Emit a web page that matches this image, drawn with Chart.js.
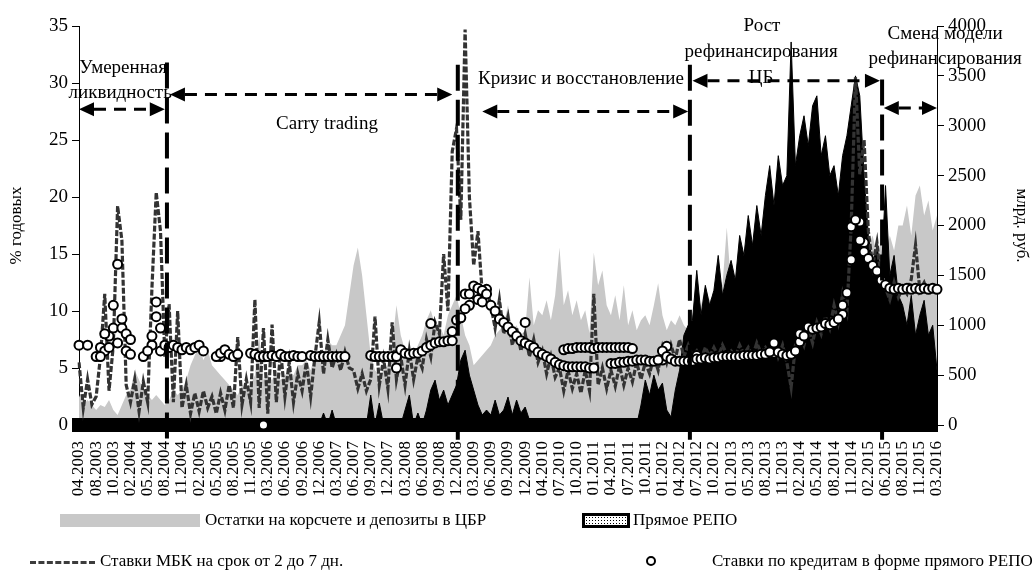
<!DOCTYPE html>
<html>
<head>
<meta charset="utf-8">
<script src="https://cdn.jsdelivr.net/npm/chart.js@4"></script>
<style>
  html, body { margin: 0; padding: 0; background: #fff; }
  #wrap { position: relative; width: 1032px; height: 574px; }
  .leg { position: absolute; font: 17px "Liberation Serif", serif; color: #000; white-space: nowrap; line-height: 20px; }
  .sw { position: absolute; }
</style>
</head>
<body>
<div id="wrap">
  <canvas id="chart" width="1032" height="574" style="width:1032px;height:574px"></canvas>
  <div class="sw" style="left:60px;top:514px;width:140px;height:13px;background:#c8c8c8"></div>
  <div class="leg" style="left:205px;top:510px">Остатки на корсчете и депозиты в ЦБР</div>
  <div class="sw" style="left:582px;top:513px;width:42px;height:9px;border:3px solid #000;background:#fff radial-gradient(#000 0.7px, transparent 0.9px);background-size:3px 3px"></div>
  <div class="leg" style="left:633px;top:510px">Прямое РЕПО</div>
  <div class="sw" style="left:30px;top:561px;width:65px;border-top:3px dashed #3c3c3c"></div>
  <div class="leg" style="left:100px;top:551px">Ставки МБК на срок от 2 до 7 дн.</div>
  <div class="sw" style="left:646px;top:556px;width:6px;height:6px;border:2px solid #000;border-radius:50%;background:#fff"></div>
  <div class="leg" style="left:712px;top:551px">Ставки по кредитам в форме прямого РЕПО</div>
</div>
<script>
// подписи оси X (каждая четвёртая точка)
const tickLabels = ["04.2003", "08.2003", "10.2003", "02.2004", "05.2004", "08.2004", "11.2004", "02.2005",
    "05.2005", "08.2005", "11.2005", "03.2006", "06.2006", "09.2006", "12.2006", "03.2007", "06.2007",
    "09.2007", "12.2007", "03.2008", "06.2008", "09.2008", "12.2008", "03.2009", "06.2009", "09.2009",
    "12.2009", "04.2010", "07.2010", "10.2010", "01.2011", "04.2011", "07.2011", "10.2011", "01.2012",
    "04.2012", "07.2012", "10.2012", "01.2013", "05.2013", "08.2013", "11.2013", "02.2014", "05.2014",
    "08.2014", "11.2014", "02.2015", "06.2015", "08.2015", "11.2015", "03.2016"];
const pointsPerTick = 4;

// Ставки МБК на срок от 2 до 7 дн., % годовых
const mbkRate = [
    5.5, 1.5, 4.0, 1.8,   2.5, 6.0, 11.5, 3.0,   7.0, 19.2, 16.2, 3.5,   2.0, 4.0, 1.2, 3.8,
    2.0, 12.0, 20.4, 17.0,   6.0, 10.6, 2.0, 10.0,   1.5, 3.5, 1.0, 2.8,   1.2, 3.0, 1.5, 2.5,
    1.0, 2.8, 1.3, 3.5,   1.5, 7.7, 1.8, 4.0,   2.0, 11.0, 1.5, 8.5,   1.0, 8.8, 2.0, 6.5,
    2.5, 5.5, 2.0, 4.5,   3.0, 5.5, 2.5, 6.0,   9.0, 4.5, 7.5, 5.0,   6.2, 4.8, 6.4, 5.0,
    4.8, 3.2, 4.5, 3.0,   4.0, 9.5, 3.5, 5.8,   3.2, 9.0, 4.0, 6.0,   3.5, 6.5, 4.0, 6.0,
    5.0, 7.5, 6.0, 9.0,   8.0, 15.0, 10.0, 24.0,   26.0, 18.0, 34.7, 20.0,   14.0, 17.0, 11.5, 12.0,
    10.5, 8.5, 11.0, 8.0,   9.5, 7.0, 8.5, 6.5,   8.0, 6.0, 7.5, 5.5,   6.5, 4.5, 6.0, 4.2,
    5.0, 3.0, 4.8, 3.2,   4.5, 2.8, 4.8, 3.0,   11.5, 3.5, 5.0, 3.2,   4.8, 3.4, 5.2, 3.5,
    5.0, 3.8, 5.5, 4.0,   5.5, 4.5, 6.0, 4.8,   6.8, 5.5, 7.0, 5.8,   7.5, 6.0, 7.0, 6.0,
    6.5, 5.8, 6.8, 6.0,   6.8, 6.0, 7.0, 6.2,   6.5, 6.0, 7.0, 6.2,   6.8, 6.0, 7.2, 6.3,
    6.8, 6.2, 7.5, 6.0,   7.0, 5.5, 3.3, 7.0,   8.0, 7.0, 8.5, 7.2,   9.0, 8.0, 9.5, 8.5,
    10.5, 9.0, 11.5, 10.0,   17.5, 30.5, 22.0, 25.0,   17.0, 14.0, 16.0, 12.5,   12.0, 11.0, 12.5, 11.2,
    12.0, 11.5, 12.8, 15.8,   11.8, 12.5, 11.5, 12.2,   11.8
];

// Прямое РЕПО, млрд руб.
const repoVolume = [
    0, 0, 0, 0,   0, 0, 0, 0,   0, 0, 0, 0,   0, 0, 0, 0,
    0, 0, 0, 0,   0, 0, 0, 0,   0, 0, 0, 0,   0, 0, 0, 0,
    0, 0, 0, 0,   0, 0, 0, 0,   0, 0, 0, 0,   0, 0, 0, 0,
    0, 0, 0, 0,   0, 0, 0, 0,   0, 120, 0, 150,   0, 60, 0, 0,
    0, 0, 0, 0,   300, 0, 220, 0,   0, 0, 0, 0,   150, 300, 0, 120,
    0, 150, 350, 450,   250, 350, 200, 300,   400, 650, 750, 500,   350, 200, 100, 150,
    100, 250, 100, 150,   280, 100, 250, 120,   180, 50, 0, 0,   0, 0, 0, 0,
    0, 0, 0, 0,   0, 0, 0, 0,   0, 0, 0, 0,   0, 0, 0, 0,
    0, 0, 0, 200,   450, 300, 500, 350,   420, 150, 80, 350,   550, 900, 1000, 1050,
    1550, 1100, 1400, 1200,   1350, 1700, 1300, 1500,   1650, 1450, 1900, 1700,   2100, 1800, 2200, 1900,
    2300, 2600, 2200, 2700,   2400, 2500, 3840, 2600,   2900, 3100, 2800, 3200,   3300, 2700, 2900, 2500,
    2600, 2300, 2700, 2900,   3200, 3500, 3300, 2500,   1900, 1600, 1800, 1500,   2400, 1500, 1700, 1300,
    1200, 1000, 1300, 900,   1100, 1250, 900, 1000,   550
];

// Остатки на корсчете и депозиты в ЦБР, млрд руб.
const reserves = [
    300, 200, 250, 200,   150, 200, 180, 250,   150, 100, 200, 300,   350, 550, 450, 350,
    300, 250, 300, 250,   200, 250, 350, 300,   350, 450, 600, 700,   800, 650, 750, 600,
    550, 500, 450, 400,   350, 300, 400, 350,   400, 500, 900, 450,   500, 450, 550, 450,
    500, 550, 500, 600,   600, 650, 550, 700,   750, 700, 850, 800,   800, 900, 1000, 1300,
    1600, 1780, 1500, 1100,   700, 550, 500, 550,   600, 800, 1200, 900,   750, 650, 700, 800,
    900, 1050, 1150, 1000,   1000, 900, 1100, 1200,   1300, 1100, 900, 800,   600, 650, 700, 750,
    800, 900, 950, 1000,   1200, 950, 1000, 900,   950, 1480, 1000, 1150,   1100, 1250, 1050, 1300,
    1780, 1200, 1350, 1100,   1250, 1050, 1150, 920,   1730, 1400, 1550, 1200,   1100, 1300, 1050, 1400,
    1000, 1150, 950, 1050,   1100, 1000, 1200, 1420,   1100, 950, 1050, 1000,   1100, 1000, 950, 1100,
    1300, 1200, 1400, 1250,   1300, 1500, 1400, 1980,   1400, 1300, 1500, 1400,   1500, 1400, 1600, 1500,
    1500, 1600, 1400, 1500,   1600, 1500, 1400, 1500,   1500, 1600, 1400, 1500,   1500, 1400, 1600, 1500,
    1400, 1500, 1600, 1500,   1500, 1600, 1700, 1800,   1800, 1900, 1700, 1850,   1700, 1900, 1750, 2000,
    2000, 2200, 1900, 2300,   2400, 2100, 2250, 1950,   2100
];

// Ставки по кредитам в форме прямого РЕПО, % годовых
const repoRate = [
    7.0, null, 7.0, null,   6.0, 6.0, 8.0, 6.8,   10.5, 14.1, 9.3, 8.0,   7.5, null, null, 6.0,
    6.5, 7.8, 10.8, 8.5,   7.0, 6.8, 7.0, 6.8,   6.6, 6.8, 6.6, 6.8,   7.0, 6.5, null, null,
    6.0, 6.3, 6.6, 6.2,   6.0, 6.2, null, null,   6.3, 6.2, 6.0, 6.0,   6.0, 6.1, 6.0, 6.2,
    6.0, 6.0, 6.1, 6.0,   6.0, null, 6.1, 6.0,   6.0, 6.0, 6.0, 6.0,   6.0, 6.0, 6.0, null,
    null, null, null, null,   6.1, 6.0, 6.0, 6.0,   6.0, 6.0, 6.0, 6.6,   6.3, 6.2, 6.3, 6.3,
    6.5, 6.8, 7.0, 7.2,   7.3, 7.3, 7.4, 7.4,   9.2, 9.4, 10.2, 11.5,   12.2, 12.0, 11.8, 11.5,
    10.5, 10.0, 9.3, 9.0,   8.6, 8.2, 7.8, 7.4,   7.2, 7.0, 6.8, 6.4,   6.2, 6.0, 5.8, 5.5,
    5.3, 5.2, 5.1, 5.1,   5.1, 5.1, 5.1, 5.0,   5.0, 6.8, 6.8, 6.8,   6.8, 6.8, 6.8, 6.8,
    6.8, 6.7, 5.7, 5.7,   5.7, 5.6, 5.6, 5.7,   6.5, 6.0, 5.8, 5.6,   5.6, 5.6, 5.6, 5.6,
    5.8, 5.8, 5.9, 5.8,   5.9, 5.9, 6.0, 6.0,   6.0, 6.0, 6.0, 6.1,   6.1, 6.1, 6.1, 6.2,
    6.2, 6.4, 7.2, 6.4,   6.2, 6.1, 6.2, 6.5,   8.0, 7.8, 8.6, 8.4,   8.5, 8.6, 8.9, 8.8,
    9.0, 9.3, 10.5, 11.6,   17.4, 18.0, 16.2, 15.2,   14.6, 14.0, 13.5, 12.7,   12.3, 12.0, 11.9, 12.0,
    11.9, 12.0, 11.9, 12.0,   11.9, 12.0, 11.9, 12.0,   11.9
];

// дополнительные сделки в те же даты: [номер точки, ставка]
const repoRateExtra = [
    [5, 6.8], [6, 6.5], [7, 7.8], [8, 8.5], [9, 7.2], [10, 8.5], [11, 6.5], [12, 6.2],
    [17, 7.0], [18, 9.5], [19, 6.5], [33, 6.0], [43, 0], [74, 5.0], [82, 8.9], [87, 8.2],
    [90, 11.5], [91, 10.5], [92, 11.5], [93, 11.0], [94, 10.8], [95, 11.9], [104, 9.0],
    [113, 6.6], [114, 6.7], [115, 6.7], [116, 6.8], [117, 6.8], [118, 6.8], [119, 6.8], [120, 6.7],
    [124, 5.4], [125, 5.4], [126, 5.5], [127, 5.5], [128, 5.6], [129, 5.6], [136, 5.7], [137, 6.9],
    [144, 6.1], [162, 6.3], [168, 7.3], [178, 9.7], [180, 14.5], [182, 17.8], [183, 16.0]
];

const labels = mbkRate.map((_, i) => i % pointsPerTick === 0 ? tickLabels[i / pointsPerTick] : "");
const extraData = mbkRate.map(() => null);
repoRateExtra.forEach(([i, v]) => { extraData[i] = v; });

const serif = "Liberation Serif";

// периоды: вертикальные линии, стрелки и подписи (в единицах шкал)
const phaseLines = [{ at: 20.5, top: 31.8 }, { at: 88.3, top: 31.6 }, { at: 142.4, top: 31.6 }, { at: 187.2, top: 30.3 }];
const phaseArrows = [
    { from: 0, to: 20.0, y: 27.7 },
    { from: 21.2, to: 87.0, y: 29.0 },
    { from: 94.0, to: 142.0, y: 27.5 },
    { from: 143.0, to: 186.7, y: 30.2 },
    { from: 187.6, to: 200, y: 27.8 }
];
const phaseTexts = [
    { text: "Умеренная", at: 10.3, y: 31.3 },
    { text: "ликвидность", at: 9.6, y: 29.1 },
    { text: "Carry trading", at: 57.8, y: 26.4 },
    { text: "Кризис и восстановление", at: 117, y: 30.35 },
    { text: "Рост", at: 159.2, y: 35.0 },
    { text: "рефинансирования", at: 159.0, y: 32.7 },
    { text: "ЦБ", at: 159.0, y: 30.4 },
    { text: "Смена модели", at: 201.9, y: 34.3 },
    { text: "рефинансирования", at: 201.9, y: 32.1 }
];

function drawArrow(ctx, x1, x2, y) {
    const head = 15, half = 7;
    ctx.setLineDash([12, 8]);
    ctx.beginPath();
    ctx.moveTo(x1 + head, y);
    ctx.lineTo(x2 - head, y);
    ctx.stroke();
    ctx.setLineDash([]);
    ctx.beginPath();
    ctx.moveTo(x1, y); ctx.lineTo(x1 + head, y - half); ctx.lineTo(x1 + head, y + half); ctx.closePath();
    ctx.moveTo(x2, y); ctx.lineTo(x2 - head, y - half); ctx.lineTo(x2 - head, y + half); ctx.closePath();
    ctx.fill();
}

const phasePlugin = {
    id: "phases",
    afterDatasetsDraw(chart) {
        const { ctx, scales: { x, y } } = chart;
        ctx.save();
        ctx.strokeStyle = "#000";
        ctx.fillStyle = "#000";
        ctx.lineWidth = 4;
        ctx.setLineDash([26, 9]);
        phaseLines.forEach(p => {
            const px = x.getPixelForValue(p.at);
            ctx.beginPath();
            ctx.moveTo(px, y.getPixelForValue(p.top));
            ctx.lineTo(px, y.getPixelForValue(-1.3));
            ctx.stroke();
        });
        ctx.lineWidth = 3;
        phaseArrows.forEach(a => {
            drawArrow(ctx, x.getPixelForValue(a.from), x.getPixelForValue(a.to), y.getPixelForValue(a.y));
        });
        ctx.setLineDash([]);
        ctx.font = "19px '" + serif + "'";
        ctx.textAlign = "center";
        ctx.textBaseline = "middle";
        phaseTexts.forEach(t => {
            ctx.fillText(t.text, x.getPixelForValue(t.at), y.getPixelForValue(t.y));
        });
        ctx.restore();
    }
};

const pointStyle = { showLine: false, pointRadius: 4.5, pointBackgroundColor: "#fff", pointBorderColor: "#000",
    pointBorderWidth: 2, yAxisID: "y", order: 0, clip: false };

new Chart(document.getElementById("chart"), {
    type: "line",
    data: {
        labels: labels,
        datasets: [
            Object.assign({ label: "Ставки по кредитам в форме прямого РЕПО", data: repoRate }, pointStyle),
            Object.assign({ label: "Ставки по кредитам в форме прямого РЕПО (доп.)", data: extraData }, pointStyle),
            {
                label: "Ставки МБК на срок от 2 до 7 дн.", data: mbkRate, yAxisID: "y",
                borderColor: "#333", borderWidth: 3.2, borderDash: [6, 2], pointRadius: 0, order: 2
            },
            {
                label: "Прямое РЕПО", data: repoVolume, yAxisID: "y2", borderColor: "#000", borderWidth: 1,
                backgroundColor: "#000", fill: "origin", pointRadius: 0, order: 3
            },
            {
                label: "Остатки на корсчете и депозиты в ЦБР", data: reserves, yAxisID: "y2", borderWidth: 0,
                borderColor: "#c8c8c8", backgroundColor: "#c8c8c8", fill: { value: 70 }, pointRadius: 0, order: 4
            }
        ]
    },
    options: {
        responsive: false,
        animation: false,
        layout: { padding: { top: 26, bottom: 69, left: 0, right: 0 } },
        plugins: { legend: { display: false }, tooltip: { enabled: false } },
        scales: {
            x: {
                offset: false,
                grid: { display: false },
                border: { display: true, color: "#000", width: 14 },
                ticks: {
                    autoSkip: false, maxRotation: 90, minRotation: 90, padding: 8, color: "#000",
                    font: { family: serif, size: 17 },
                    callback: (v, i) => labels[i] || null
                },
                afterFit: s => { s.height = 80; }
            },
            y: {
                position: "left", min: 0, max: 35,
                ticks: { stepSize: 5, color: "#000", padding: 4, font: { family: serif, size: 19 } },
                grid: { drawOnChartArea: false, drawTicks: true, tickLength: 7, color: "#000" },
                border: { display: true, color: "#000" },
                title: { display: true, text: "% годовых", color: "#000", padding: { top: 6, bottom: 0 }, font: { family: serif, size: 17 } },
                afterFit: s => { s.width = 79; }
            },
            y2: {
                position: "right", min: 0, max: 4000,
                ticks: { stepSize: 500, color: "#000", padding: 4, font: { family: serif, size: 19 }, callback: v => String(v) },
                grid: { drawOnChartArea: false, drawTicks: true, tickLength: 7, color: "#000" },
                border: { display: true, color: "#000" },
                title: { display: true, text: "млрд. руб.", color: "#000", padding: 0, font: { family: serif, size: 17 } },
                afterFit: s => { s.width = 95; }
            }
        }
    },
    plugins: [phasePlugin]
});
</script>
</body>
</html>
